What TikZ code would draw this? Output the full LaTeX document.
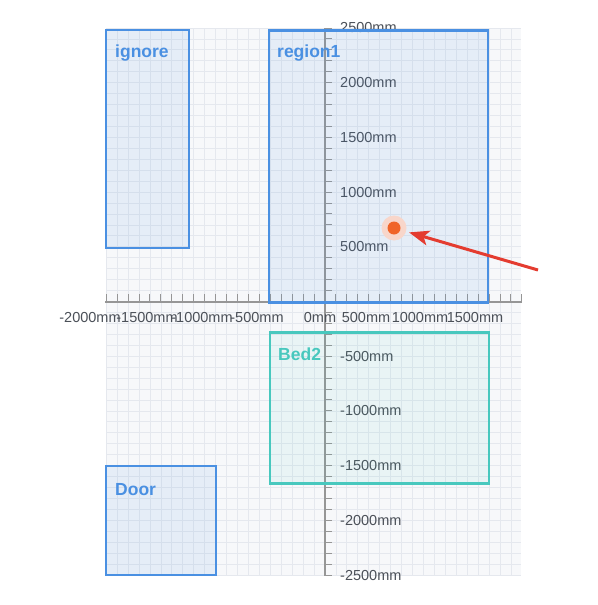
\documentclass[tikz,border=0pt]{standalone}
\usepackage{fontspec}
\setmainfont{Liberation Sans}
\usetikzlibrary{arrows.meta}
\definecolor{gridbg}{RGB}{247,248,250}
\definecolor{gridline}{RGB}{229,232,238}
\definecolor{boxblue}{RGB}{74,144,226}
\definecolor{boxteal}{RGB}{72,200,190}
\definecolor{axisgray}{RGB}{150,150,150}
\definecolor{labelgray}{RGB}{75,80,88}
\definecolor{dotorange}{RGB}{240,100,40}
\definecolor{halocol}{RGB}{248,214,202}
\definecolor{arrowred}{RGB}{228,60,48}
\begin{document}
\begin{tikzpicture}[x=1pt,y=-1pt,
  zone/.style={draw=boxblue, line width=2.6pt, fill=boxblue, fill opacity=0.1, draw opacity=1,
    rectangle, inner sep=0pt, outer sep=0pt, anchor=north west},
  tealzone/.style={zone, draw=boxteal, fill=boxteal, fill opacity=0.08},
  zonelabel/.style={text=boxblue, font=\fontsize{17.5}{18}\selectfont\bfseries, inner sep=0pt, anchor=base west},
  teallabel/.style={zonelabel, text=boxteal},
  axislabel/.style={text=labelgray, font=\fontsize{14.5}{15}\selectfont, inner sep=0pt},
  axisline/.style={draw=axisgray, line width=1.3pt},
  tickline/.style={draw=axisgray, line width=1pt},
  pointer/.style={draw=arrowred, line width=3pt, -{Stealth[length=20pt, width=15pt, inset=5pt]}, shorten >=3pt}
]
\useasboundingbox (0,0) rectangle (597,605);
\fill[white] (0,0) rectangle (597,605);
% grid
\fill[gridbg] (106,28) rectangle (521,576);
\foreach \i in {-20,...,17} \draw[gridline, line width=0.8pt] ({325+\i*10.94},28) -- ({325+\i*10.94},576);
\foreach \j in {-25,...,25} \draw[gridline, line width=0.8pt] (106,{301.5+\j*10.94}) -- (521,{301.5+\j*10.94});
% axes
\draw[axisline] (105,302) -- (522,302);
\draw[axisline] (325,28) -- (325,576);
\foreach \i in {-20,...,18} \draw[tickline] ({325+\i*10.94},302) -- ({325+\i*10.94},294);
\foreach \j in {-25,...,25} \draw[tickline] (325,{301.5+\j*10.94}) -- (332,{301.5+\j*10.94});
% vertical axis labels
\foreach \v/\n in {2500/y1,2000/y2,1500/y3,1000/y4,500/y5,-500/y6,-1000/y7,-1500/y8,-2000/y9,-2500/y10}
  \node[axislabel, anchor=west] (\n) at (340,{301.5-\v*0.1094}) {\v mm};
% horizontal axis labels
\foreach \v/\c/\n in {-2000/90/x1,-1500/147/x2,-1000/202/x3,-500/257/x4,0/320/x5,500/366/x6,1000/420/x7,1500/475/x8}
  \node[axislabel] (\n) at (\c,318) {\v mm};
% zones
\node[zone, minimum width=83pt, minimum height=218pt] (ignore) at (106,30) {};
\node[zone, minimum width=219pt, minimum height=272pt] (region1) at (269,30.5) {};
\node[tealzone, minimum width=219pt, minimum height=151pt] (bed2) at (270,332.5) {};
\node[zone, minimum width=110pt, minimum height=109pt] (door) at (106,466) {};
\node[zonelabel] (ignorelbl) at (115,57) {ignore};
\node[zonelabel] (region1lbl) at (277,57) {region1};
\node[teallabel] (bed2lbl) at (278,360) {Bed2};
\node[zonelabel] (doorlbl) at (115,495) {Door};
% marker
\node[circle, fill=halocol, minimum size=25pt, inner sep=0pt] (halo) at (394,228) {};
\node[circle, fill=dotorange, minimum size=13pt, inner sep=0pt] (dot) at (394,228) {};
\coordinate (tail) at (538,270);
\draw[pointer] (tail) -- (halo);
\end{tikzpicture}
\end{document}
